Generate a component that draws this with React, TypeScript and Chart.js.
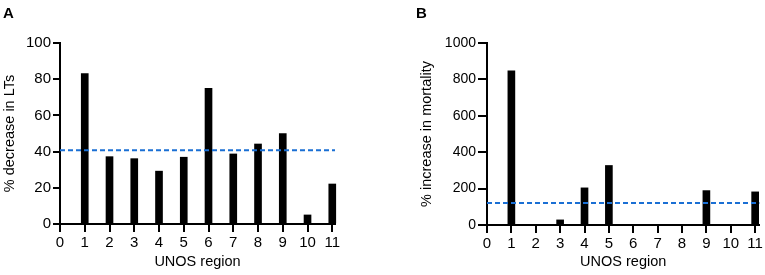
import React, { useEffect, useRef } from "react";
import { Chart, registerables } from "chart.js";

Chart.register(...registerables);

// ---- data ----
const regions = [1, 2, 3, 4, 5, 6, 7, 8, 9, 10, 11];
const decreaseInLTs = [83.1, 37.2, 36.1, 29.2, 36.9, 74.9, 38.7, 44.2, 49.9, 5.0, 22.1];
const meanDecrease = 40.7;
const increaseInMortality = [847, 0, 28, 204, 327, 0, 0, 0, 189, 0, 182];
const meanIncrease = 121;
const xTickValues = [0, 1, 2, 3, 4, 5, 6, 7, 8, 9, 10, 11];
const yTicksA = [0, 20, 40, 60, 80, 100];
const yTicksB = [0, 200, 400, 600, 800, 1000];

const FONT = "'Liberation Sans', Arial, Helvetica, sans-serif";
const BLUE = "#1a6fd4";

type PanelCfg = {
  values: number[];
  mean: number;
  yTicks: number[];
  yMax: number;
  xMax: number;
  yTitle: string;
  padding: { top: number; right: number; bottom: number; left: number };
  yWidth: number;
  xHeight: number;
  yTickLen: number;
  tickSize: number;
};

function buildConfig(p: PanelCfg): any {
  return {
    type: "bar",
    data: {
      datasets: [
        {
          type: "line",
          order: 0,
          data: [
            { x: 0, y: p.mean },
            { x: p.xMax, y: p.mean },
          ],
          borderColor: BLUE,
          borderWidth: 2,
          borderDash: [5, 3],
          pointRadius: 0,
          fill: false,
          clip: false,
        },
        {
          type: "bar",
          order: 1,
          data: regions.map((r, i) => ({ x: r, y: p.values[i] })),
          backgroundColor: "#000",
          borderWidth: 0,
          barThickness: 7,
          clip: false,
        },
      ],
    },
    options: {
      responsive: false,
      animation: false,
      devicePixelRatio: 1,
      layout: { padding: p.padding },
      plugins: { legend: { display: false }, tooltip: { enabled: false } },
      scales: {
        x: {
          type: "linear",
          min: 0,
          max: p.xMax,
          offset: false,
          afterBuildTicks: (s: any) => {
            s.ticks = xTickValues.map((v) => ({ value: v }));
          },
          afterFit: (s: any) => {
            s.height = p.xHeight;
          },
          ticks: {
            color: "#000",
            font: { family: FONT, size: 15 },
            padding: 2,
            autoSkip: false,
            maxRotation: 0,
            callback: (v: any) => String(v),
          },
          grid: {
            display: true,
            drawOnChartArea: false,
            drawTicks: true,
            tickLength: 8,
            color: "#000",
            lineWidth: 2,
            offset: false,
          },
          border: { display: true, color: "#000", width: 2 },
          title: {
            display: true,
            text: "UNOS region",
            color: "#000",
            font: { family: FONT, size: 14.5 },
            padding: { top: 0, bottom: 4 },
          },
        },
        y: {
          type: "linear",
          min: 0,
          max: p.yMax,
          afterBuildTicks: (s: any) => {
            s.ticks = p.yTicks.map((v) => ({ value: v }));
          },
          afterFit: (s: any) => {
            s.width = p.yWidth;
          },
          ticks: {
            color: "#000",
            font: { family: FONT, size: p.tickSize },
            padding: 2,
            callback: (v: any) => String(v),
          },
          grid: {
            display: true,
            drawOnChartArea: false,
            drawTicks: true,
            tickLength: p.yTickLen,
            color: "#000",
            lineWidth: 2,
          },
          border: { display: true, color: "#000", width: 2 },
          title: {
            display: true,
            text: p.yTitle,
            color: "#000",
            font: { family: FONT, size: 14.5 },
            padding: { top: 1, bottom: 0 },
          },
        },
      },
    },
  };
}

function Panel(props: { cfg: PanelCfg; width: number; left: number; letter: string; letterLeft: number }) {
  const ref = useRef<HTMLCanvasElement | null>(null);
  useEffect(() => {
    if (!ref.current) return;
    const chart = new Chart(ref.current, buildConfig(props.cfg));
    return () => chart.destroy();
  }, []);
  return (
    <>
      <div style={{ position: "absolute", left: props.left, top: 0, width: props.width, height: 275 }}>
        <canvas ref={ref} width={props.width} height={275} style={{ display: "block" }} />
      </div>
      <div
        style={{
          position: "absolute",
          left: props.letterLeft,
          top: 5,
          fontFamily: FONT,
          fontWeight: "bold",
          fontSize: 15,
          lineHeight: "15px",
          color: "#000",
        }}
      >
        {props.letter}
      </div>
    </>
  );
}

export default function App() {
  const cfgA: PanelCfg = {
    values: decreaseInLTs,
    mean: meanDecrease,
    yTicks: yTicksA,
    yMax: 100,
    xMax: 11.11,
    yTitle: "% decrease in LTs",
    padding: { top: 43, right: 47, bottom: 0, left: 0 },
    yWidth: 60,
    xHeight: 51,
    yTickLen: 7,
    tickSize: 15,
  };
  const cfgB: PanelCfg = {
    values: increaseInMortality,
    mean: meanIncrease,
    yTicks: yTicksB,
    yMax: 1000,
    xMax: 11.175,
    yTitle: "% increase in mortality",
    padding: { top: 43, right: 4, bottom: 0, left: 35 },
    yWidth: 70,
    xHeight: 50,
    yTickLen: 9,
    tickSize: 14,
  };
  return (
    <div style={{ position: "absolute", left: 0, top: 0, width: 765, height: 275, background: "#fff" }}>
      <Panel cfg={cfgA} width={382} left={0} letter="A" letterLeft={3} />
      <Panel cfg={cfgB} width={383} left={382} letter="B" letterLeft={416} />
    </div>
  );
}
